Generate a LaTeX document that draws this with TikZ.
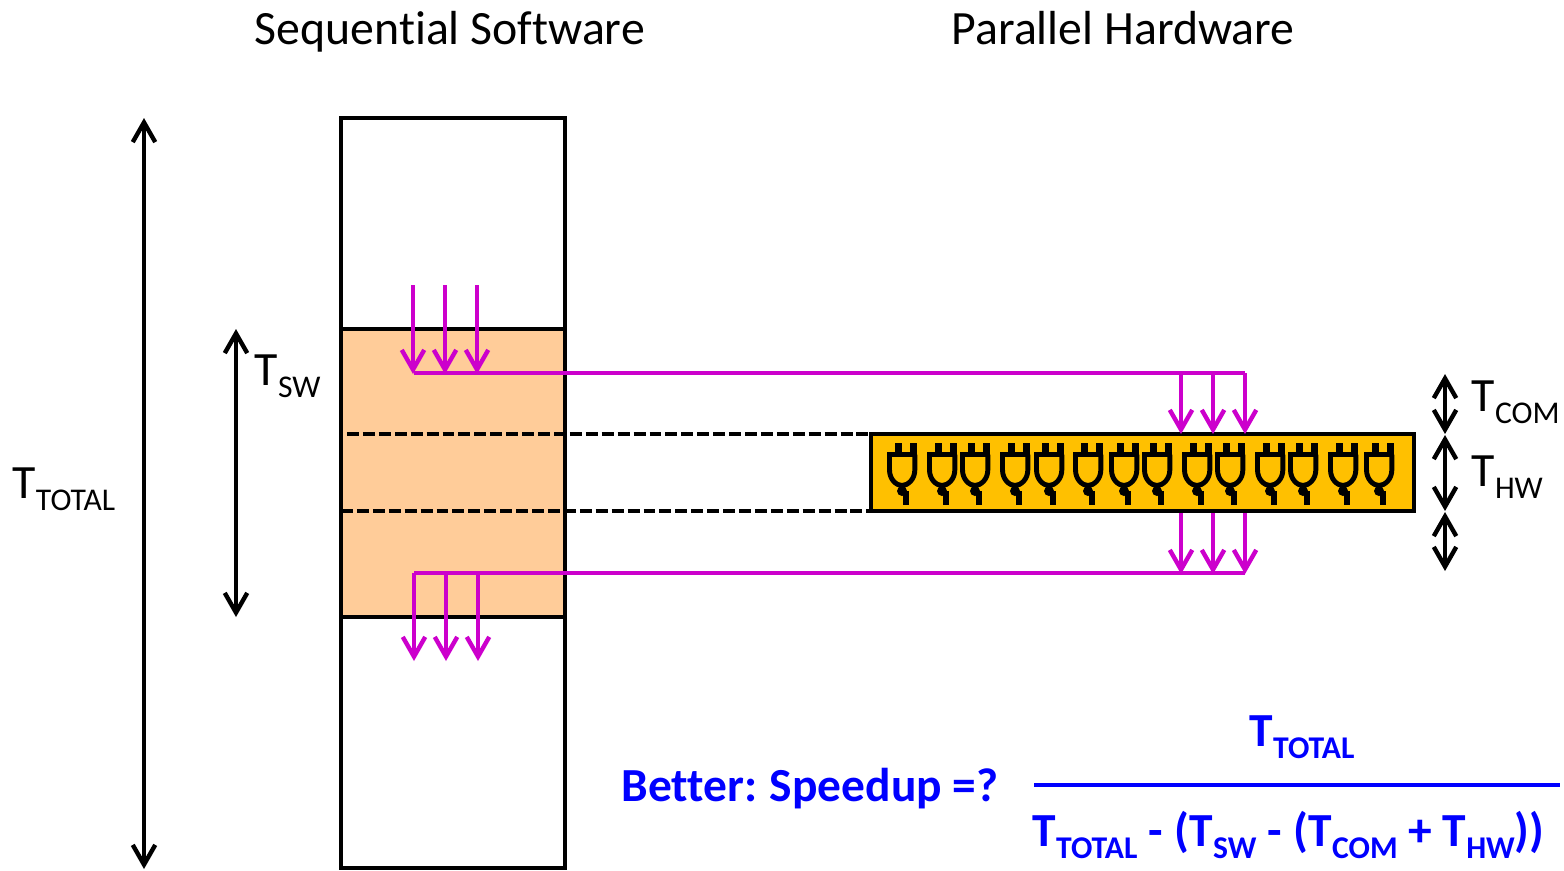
\documentclass[tikz,border=0pt]{standalone}
\usepackage{fontspec}
\setmainfont{Carlito}[Ligatures=NoCommon]
\usetikzlibrary{arrows.meta}

\newcommand{\Tsub}[1]{T\raisebox{-3.5pt}{\fontsize{9}{10}\selectfont #1}}
\newcommand{\Tbsub}[1]{T\raisebox{-3.5pt}{\fontsize{9}{10}\selectfont\bfseries #1}}

\definecolor{swfill}{HTML}{FFCC99}
\definecolor{hwfill}{HTML}{FFC000}
\definecolor{sigcolor}{HTML}{CC00CC}

\tikzset{
    lbl/.style={anchor=base west, inner sep=0pt, font=\fontsize{13.6}{15}\selectfont},
    better/.style={lbl, text=blue, font=\fontsize{13.5}{15}\selectfont\bfseries},
    sig/.style={draw=sigcolor, line width=1pt, -{Straight Barb[length=5.6pt,width=6.4pt,line width=1.25pt]}},
    sigline/.style={draw=sigcolor, line width=1pt},
    timespan/.style={line width=1pt, {Straight Barb[length=5.6pt,width=6.4pt,line width=1.25pt]}-{Straight Barb[length=5.6pt,width=6.4pt,line width=1.25pt]}},
    plug/.pic={
        \fill (-7,-39) rectangle (0,-30);
        \fill (8,-39) rectangle (15,-30);
        \draw[line width=1.4pt] (-15,-27.5) -- (15.3,-27.5);
        \draw[line width=1.4pt] (-12.5,-27.5) -- (-12.5,-12) .. controls (-12.5,-3) and (-6,3.5) .. (0,3.5)
            .. controls (6,3.5) and (12.8,-3) .. (12.8,-12) -- (12.8,-27.5);
        \fill (0,9) circle (5);
        \fill (1,9) rectangle (7,23);
    }
}

\begin{document}
\begin{tikzpicture}[x=0.1mm, y=-0.1mm]
    \useasboundingbox (0,0) rectangle (1564,870);

    % software
    \fill[swfill] (341,329) rectangle (565,617);
    \draw[line width=1pt] (341,118) rectangle (565,868);
    \draw[line width=1pt] (341,329) -- (565,329);
    \draw[line width=1pt] (341,617) -- (565,617);

    % hardware
    \coordinate (DA) at (347,434);
    \coordinate (DB) at (341,511);
    \coordinate (HA) at (871,434);
    \coordinate (HB) at (871,511);
    \draw[line width=1.1pt, dash pattern=on 3.4pt off 1.13pt] (DA) -- (HA);
    \draw[line width=1.1pt, dash pattern=on 3.4pt off 1.13pt] (DB) -- (HB);
    \draw[line width=1pt, fill=hwfill] (HA) rectangle (1414,511);
    \foreach \px in {902,942,975,1015,1049,1088,1124,1157,1197,1230,1270,1303,1343,1379}
        \pic at (\px,482) {plug};

    % sending
    \coordinate (SA) at (414,373);
    \coordinate (SB) at (1245,373);
    \draw[sigline] (SA) -- (SB);
    \foreach \px/\name in {413/a,445/b,477/c} {
        \coordinate (up\name) at (\px,285);
        \coordinate (ut\name) at (\px,374);
        \draw[sig] (up\name) -- (ut\name);
    }
    \foreach \px/\name in {1181/a,1213/b,1245/c} {
        \coordinate (hs\name) at (\px,373);
        \coordinate (ht\name) at (\px,434);
        \draw[sig] (hs\name) -- (ht\name);
    }

    % returning
    \coordinate (RA) at (414,573);
    \coordinate (RB) at (1245,573);
    \draw[sigline] (RA) -- (RB);
    \foreach \px/\name in {1181/a,1213/b,1245/c} {
        \coordinate (rs\name) at (\px,513);
        \coordinate (rt\name) at (\px,574);
        \draw[sig] (rs\name) -- (rt\name);
    }
    \foreach \px/\name in {414/a,446/b,478/c} {
        \coordinate (ds\name) at (\px,573);
        \coordinate (dt\name) at (\px,661);
        \draw[sig] (ds\name) -- (dt\name);
    }

    % times
    \coordinate (TotA) at (144,118);
    \coordinate (TotB) at (144,869);
    \draw[timespan] (TotA) -- (TotB);
    \coordinate (SwA) at (236,329);
    \coordinate (SwB) at (236,617);
    \draw[timespan] (SwA) -- (SwB);
    \coordinate (ComA) at (1445,374);
    \coordinate (ComB) at (1445,434);
    \draw[timespan] (ComA) -- (ComB);
    \coordinate (HwA) at (1445,435);
    \coordinate (HwB) at (1445,511);
    \draw[timespan] (HwA) -- (HwB);
    \coordinate (RetA) at (1445,512);
    \coordinate (RetB) at (1445,571);
    \draw[timespan] (RetA) -- (RetB);

    % labels
    \node[lbl] (seq) at (254,44) {Sequential Software};
    \node[lbl] (par) at (951,44) {Parallel Hardware};
    \node[lbl] (ttotal) at (12,498) {\Tsub{TOTAL}};
    \node[lbl] (tsw) at (254,385) {\Tsub{SW}};
    \node[lbl] (tcom) at (1471,411) {\Tsub{COM}};
    \node[lbl] (thw) at (1471,486) {\Tsub{HW}};

    % formula
    \node[better] (speedup) at (621,801) {Better:\hspace{-0.5pt} Speedup =?};
    \node[better] (num) at (1249,746) {\Tbsub{TOTAL}};
    \node[better] (den) at (1032,846) {\Tbsub{TOTAL} -\hspace{0.4pt} (\Tbsub{SW} -\hspace{0.4pt} (\Tbsub{COM} + \Tbsub{HW}))};
    \coordinate (FA) at (1034,785);
    \coordinate (FB) at (1560,785);
    \draw[blue, line width=1pt] (FA) -- (FB);
\end{tikzpicture}
\end{document}
